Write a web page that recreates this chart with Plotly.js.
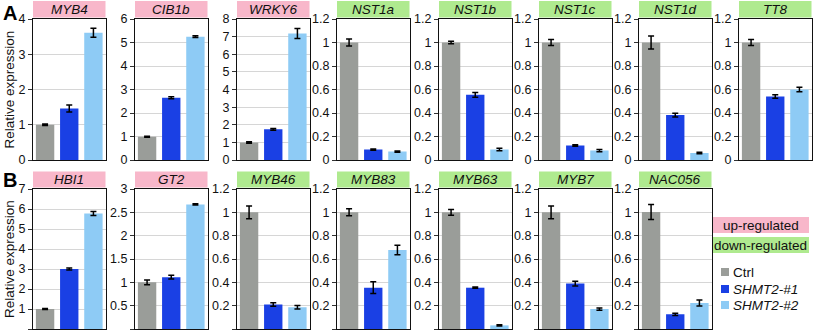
<!DOCTYPE html>
<html><head><meta charset="utf-8">
<script src="https://cdn.plot.ly/plotly-3.0.1.min.js"></script>
<style>html,body{margin:0;padding:0;background:#fff}#chart{width:813px;height:335px}</style>
</head><body><div id="chart"></div>
<script>
// ---------- DATA ----------
const seriesNames = ['Ctrl', 'SHMT2-#1', 'SHMT2-#2'];

const genesA = ['MYB4', 'CIB1b', 'WRKY6', 'NST1a', 'NST1b', 'NST1c', 'NST1d', 'TT8'];
const regA = ['up', 'up', 'up', 'down', 'down', 'down', 'down', 'down'];
const ctrlA = [1.00, 0.99, 0.99, 1.00, 1.00, 1.00, 1.00, 1.00];
const ctrlErrA = [0.02, 0.02, 0.04, 0.03, 0.01, 0.025, 0.055, 0.025];
const shmt1A = [1.46, 2.65, 1.74, 0.089, 0.555, 0.124, 0.382, 0.54];
const shmt1ErrA = [0.10, 0.04, 0.05, 0.005, 0.02, 0.006, 0.015, 0.015];
const shmt2A = [3.61, 5.25, 7.18, 0.072, 0.089, 0.080, 0.060, 0.60];
const shmt2ErrA = [0.13, 0.04, 0.28, 0.005, 0.01, 0.01, 0.007, 0.02];
const yMaxA = [4, 6, 8, 1.2, 1.2, 1.2, 1.2, 1.2];
const yStepA = [1, 1, 1, 0.2, 0.2, 0.2, 0.2, 0.2];

const genesB = ['HBI1', 'GT2', 'MYB46', 'MYB83', 'MYB63', 'MYB7', 'NAC056'];
const regB = ['up', 'up', 'down', 'down', 'down', 'down', 'down'];
const ctrlB = [1.00, 1.00, 1.00, 1.00, 1.00, 1.00, 1.003];
const ctrlErrB = [0.03, 0.05, 0.055, 0.03, 0.025, 0.055, 0.065];
const shmt1B = [3.00, 1.11, 0.211, 0.354, 0.354, 0.389, 0.126];
const shmt1ErrB = [0.05, 0.04, 0.015, 0.05, 0.005, 0.02, 0.01];
const shmt2B = [5.78, 2.67, 0.186, 0.677, 0.031, 0.171, 0.223];
const shmt2ErrB = [0.10, 0.015, 0.015, 0.04, 0.005, 0.01, 0.025];
const yMaxB = [7, 3, 1.2, 1.2, 1.2, 1.2, 1.2];
const yStepB = [1, 0.5, 0.2, 0.2, 0.2, 0.2, 0.2];

const yTitle = 'Relative expression';
const regLabels = {up: 'up-regulated', down: 'down-regulated'};

// ---------- STYLE / LAYOUT ----------
const W = 813, H = 335;
const FONT = 'Liberation Sans, Arial, sans-serif';
const seriesColors = ['#9a9d99', '#1a40e4', '#8ecbf5'];
const regColors = {up: '#f8b7ca', down: '#afea8f'};
const panelLeft = [33, 135, 237, 337, 439, 539, 639, 739];
const panelW = 72.5;
const rows = [
  {plotTop: 19, plotBot: 160, boxTop: 1, boxBot: 17.5, letter: 'A', letterY: 13},
  {plotTop: 189, plotBot: 329, boxTop: 171.5, boxBot: 187.5, letter: 'B', letterY: 180}
];
const px = v => v / W;
const py = v => 1 - v / H;

const traces = [];
const layout = {
  width: W, height: H,
  margin: {l: 0, r: 0, t: 0, b: 0},
  paper_bgcolor: '#fff', plot_bgcolor: '#fff',
  showlegend: false,
  barmode: 'group', bargap: 0.0, bargroupgap: 0.24,
  font: {family: FONT, size: 12, color: '#111'},
  shapes: [], annotations: []
};

const rowData = [
  {genes: genesA, reg: regA, vals: [ctrlA, shmt1A, shmt2A], errs: [ctrlErrA, shmt1ErrA, shmt2ErrA], yMax: yMaxA, yStep: yStepA},
  {genes: genesB, reg: regB, vals: [ctrlB, shmt1B, shmt2B], errs: [ctrlErrB, shmt1ErrB, shmt2ErrB], yMax: yMaxB, yStep: yStepB}
];

let k = 0;
rowData.forEach((rd, r) => {
  const R = rows[r];
  rd.genes.forEach((g, i) => {
    k++;
    const xa = k === 1 ? 'x' : 'x' + k, ya = k === 1 ? 'y' : 'y' + k;
    const xk = k === 1 ? 'xaxis' : 'xaxis' + k, yk = k === 1 ? 'yaxis' : 'yaxis' + k;
    for (let s = 0; s < 3; s++) {
      traces.push({
        type: 'bar', x: [g], y: [rd.vals[s][i]], name: seriesNames[s],
        xaxis: xa, yaxis: ya,
        marker: {color: seriesColors[s], line: {width: 0}},
        error_y: {type: 'data', array: [rd.errs[s][i]], visible: true, color: '#000', thickness: 1.5, width: 3},
        hoverinfo: 'skip'
      });
    }
    const L = panelLeft[i];
    layout[xk] = {
      domain: [px(L), px(L + panelW)], anchor: ya,
      showticklabels: false, ticks: '', showgrid: false, zeroline: false,
      showline: true, mirror: true, linecolor: '#111', linewidth: 1,
      fixedrange: true
    };
    layout[yk] = {
      domain: [py(R.plotBot), py(R.plotTop)], anchor: xa,
      range: [0, rd.yMax[i]], dtick: rd.yStep[i], tick0: 0,
      showgrid: true, gridcolor: '#d6d6d6', gridwidth: 1, zeroline: false,
      showline: true, mirror: true, linecolor: '#111', linewidth: 1,
      ticks: 'outside', ticklen: 4, tickcolor: '#333', tickwidth: 1,
      tickfont: {family: FONT, size: 12.5, color: '#111'},
      fixedrange: true
    };
    layout.shapes.push({
      type: 'rect', xref: 'paper', yref: 'paper',
      x0: px(L), x1: px(L + panelW), y0: py(R.boxBot), y1: py(R.boxTop),
      fillcolor: regColors[rd.reg[i]], line: {width: 0}, layer: 'below'
    });
    layout.annotations.push({
      xref: 'paper', yref: 'paper', x: px(L + panelW / 2), y: py((R.boxTop + R.boxBot) / 2),
      text: '<i>' + g + '</i>', showarrow: false, xanchor: 'center', yanchor: 'middle',
      font: {family: FONT, size: 13.5, color: '#111'}
    });
  });
  layout.annotations.push({
    xref: 'paper', yref: 'paper', x: px(9), y: py((R.plotTop + R.plotBot) / 2),
    text: yTitle, textangle: -90, showarrow: false, xanchor: 'center', yanchor: 'middle',
    font: {family: FONT, size: 13.5, color: '#111'}
  });
  layout.annotations.push({
    xref: 'paper', yref: 'paper', x: px(10), y: py(R.letterY),
    text: '<b>' + R.letter + '</b>', showarrow: false, xanchor: 'center', yanchor: 'middle',
    font: {family: FONT, size: 20, color: '#000'}
  });
});

const keyRows = [{reg: 'up', top: 217, bot: 233}, {reg: 'down', top: 237, bot: 253}];
keyRows.forEach(kr => {
  layout.shapes.push({
    type: 'rect', xref: 'paper', yref: 'paper',
    x0: px(712), x1: px(809), y0: py(kr.bot), y1: py(kr.top),
    fillcolor: regColors[kr.reg], line: {width: 0}, layer: 'below'
  });
  layout.annotations.push({
    xref: 'paper', yref: 'paper', x: px(760.5), y: py((kr.top + kr.bot) / 2),
    text: regLabels[kr.reg], showarrow: false, xanchor: 'center', yanchor: 'middle',
    font: {family: FONT, size: 13.5, color: '#111'}
  });
});

const keyY = [272, 289, 305];
seriesNames.forEach((n, s) => {
  layout.shapes.push({
    type: 'rect', xref: 'paper', yref: 'paper',
    x0: px(721), x1: px(729), y0: py(keyY[s] + 4), y1: py(keyY[s] - 4),
    fillcolor: seriesColors[s], line: {width: 0}
  });
  layout.annotations.push({
    xref: 'paper', yref: 'paper', x: px(731), y: py(keyY[s]),
    text: s === 0 ? n : '<i>' + n + '</i>', showarrow: false, xanchor: 'left', yanchor: 'middle',
    font: {family: FONT, size: 13.5, color: '#111'}
  });
});

Plotly.newPlot('chart', traces, layout, {staticPlot: true, displayModeBar: false});
</script>
</body></html>
